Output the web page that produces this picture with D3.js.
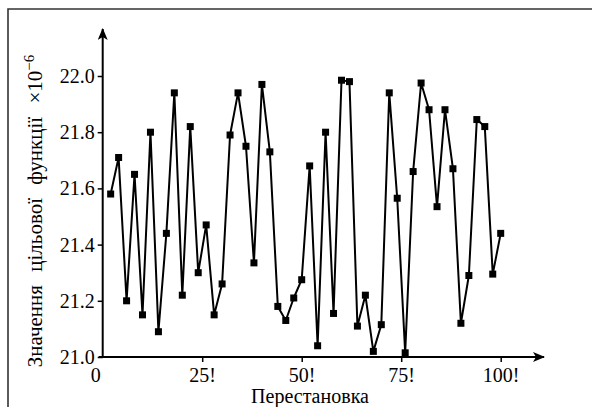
<!DOCTYPE html>
<html>
<head>
<meta charset="utf-8">
<script src="https://cdn.jsdelivr.net/npm/d3@7"></script>
<style>
  body { margin: 0; background: #fff; }
  svg { display: block; }
  text { font-family: "Liberation Serif", "DejaVu Serif", serif; }
</style>
</head>
<body>
<div id="root"></div>
<script>
const width = 592;
const height = 407;
const serif = "'Liberation Serif', 'DejaVu Serif', serif";

// permutation index (x) and objective value ×10^-6 (y)
const perm = [2, 4, 6, 8, 10, 12, 14, 16, 18, 20, 22, 24, 26, 28, 30, 32, 34, 36, 38, 40,
  42, 44, 46, 48, 50, 52, 54, 56, 58, 60, 62, 64, 66, 68, 70, 72, 74, 76, 78, 80,
  82, 84, 86, 88, 90, 92, 94, 96, 98, 100];
const values = [21.58, 21.71, 21.2, 21.65, 21.15, 21.8, 21.09, 21.44, 21.94, 21.22,
  21.82, 21.3, 21.47, 21.15, 21.26, 21.79, 21.94, 21.75, 21.335, 21.97,
  21.73, 21.18, 21.13, 21.21, 21.275, 21.68, 21.04, 21.8, 21.155, 21.985,
  21.98, 21.11, 21.22, 21.02, 21.115, 21.94, 21.565, 21.015, 21.66, 21.975,
  21.88, 21.535, 21.88, 21.67, 21.12, 21.29, 21.845, 21.82, 21.295, 21.44];
const xTicks = [25, 50, 75, 100];
const yTicks = [21.0, 21.2, 21.4, 21.6, 21.8, 22.0];

const margin = { left: 102.7, right: 91.3, top: 76, bottom: 50 };

const x = d3.scaleLinear().domain([0, 100]).range([margin.left, width - margin.right]);
const y = d3.scaleLinear().domain([21, 22]).range([height - margin.bottom, margin.top]);

const svg = d3.select("#root")
  .append("svg")
  .attr("width", width)
  .attr("height", height)
  .attr("font-family", serif);

// frame (top and left edges only)
svg.append("path")
  .attr("d", `M8,${height} L8,9 L${width},9`)
  .attr("fill", "none")
  .attr("stroke", "#333")
  .attr("stroke-width", 1.6);

const defs = svg.append("defs");
defs.append("marker")
  .attr("id", "arrow")
  .attr("viewBox", "0 0 12 10")
  .attr("refX", 11)
  .attr("refY", 5)
  .attr("markerWidth", 12)
  .attr("markerHeight", 10)
  .attr("markerUnits", "userSpaceOnUse")
  .attr("orient", "auto")
  .append("path")
  .attr("d", "M0,0 L12,5 L0,10 L3,5 Z")
  .attr("fill", "#000");

const x0 = x(0), y0 = y(21);

// x axis
const xAxis = svg.append("g")
  .attr("transform", `translate(0,${y0})`)
  .call(d3.axisBottom(x).tickValues(xTicks).tickSize(5).tickPadding(6).tickFormat((d) => d + "!"))
  .attr("font-family", serif)
  .attr("font-size", 20);
xAxis.select(".domain").remove();
xAxis.selectAll("line").attr("stroke", "#000").attr("stroke-width", 1.5);
xAxis.selectAll("text").attr("fill", "#000").attr("font-family", serif);

svg.append("text")
  .attr("x", x0 - 7)
  .attr("y", y0 + 25)
  .attr("text-anchor", "middle")
  .attr("font-family", serif)
  .attr("font-size", 20)
  .text("0");

// y axis
const yAxis = svg.append("g")
  .attr("transform", `translate(${x0},0)`)
  .call(d3.axisLeft(y).tickValues(yTicks).tickSize(5).tickPadding(3).tickFormat(d3.format(".1f")))
  .attr("font-family", serif)
  .attr("font-size", 20);
yAxis.select(".domain").remove();
yAxis.selectAll("line").attr("stroke", "#000").attr("stroke-width", 1.5);
yAxis.selectAll("text").attr("fill", "#000").attr("font-family", serif);

svg.append("line")
  .attr("x1", x0 - 4).attr("y1", y0)
  .attr("x2", 544).attr("y2", y0)
  .attr("stroke", "#000").attr("stroke-width", 2)
  .attr("marker-end", "url(#arrow)");

svg.append("line")
  .attr("x1", x0).attr("y1", y0)
  .attr("x2", x0).attr("y2", 29)
  .attr("stroke", "#000").attr("stroke-width", 2)
  .attr("marker-end", "url(#arrow)");

// series
const pts = perm.map((p, i) => [p, values[i]]);

svg.append("path")
  .datum(pts)
  .attr("fill", "none")
  .attr("stroke", "#000")
  .attr("stroke-width", 2)
  .attr("stroke-linejoin", "round")
  .attr("d", d3.line().x((d) => x(d[0])).y((d) => y(d[1])));

svg.append("g")
  .selectAll("rect")
  .data(pts)
  .join("rect")
  .attr("x", (d) => x(d[0]) - 3.5)
  .attr("y", (d) => y(d[1]) - 3.5)
  .attr("width", 7)
  .attr("height", 7)
  .attr("fill", "#000");

// axis titles
svg.append("text")
  .attr("x", 310)
  .attr("y", 403)
  .attr("text-anchor", "middle")
  .attr("font-family", serif)
  .attr("font-size", 20)
  .text("Перестановка");

const yTitle = svg.append("text")
  .attr("transform", "translate(42,211) rotate(-90)")
  .attr("text-anchor", "middle")
  .attr("font-family", serif)
  .attr("font-size", 21)
  .attr("word-spacing", 8);
yTitle.append("tspan").text("Значення цільової функції ×10");
yTitle.append("tspan").attr("dy", -8).attr("font-size", 15).text("−6");
</script>
</body>
</html>
